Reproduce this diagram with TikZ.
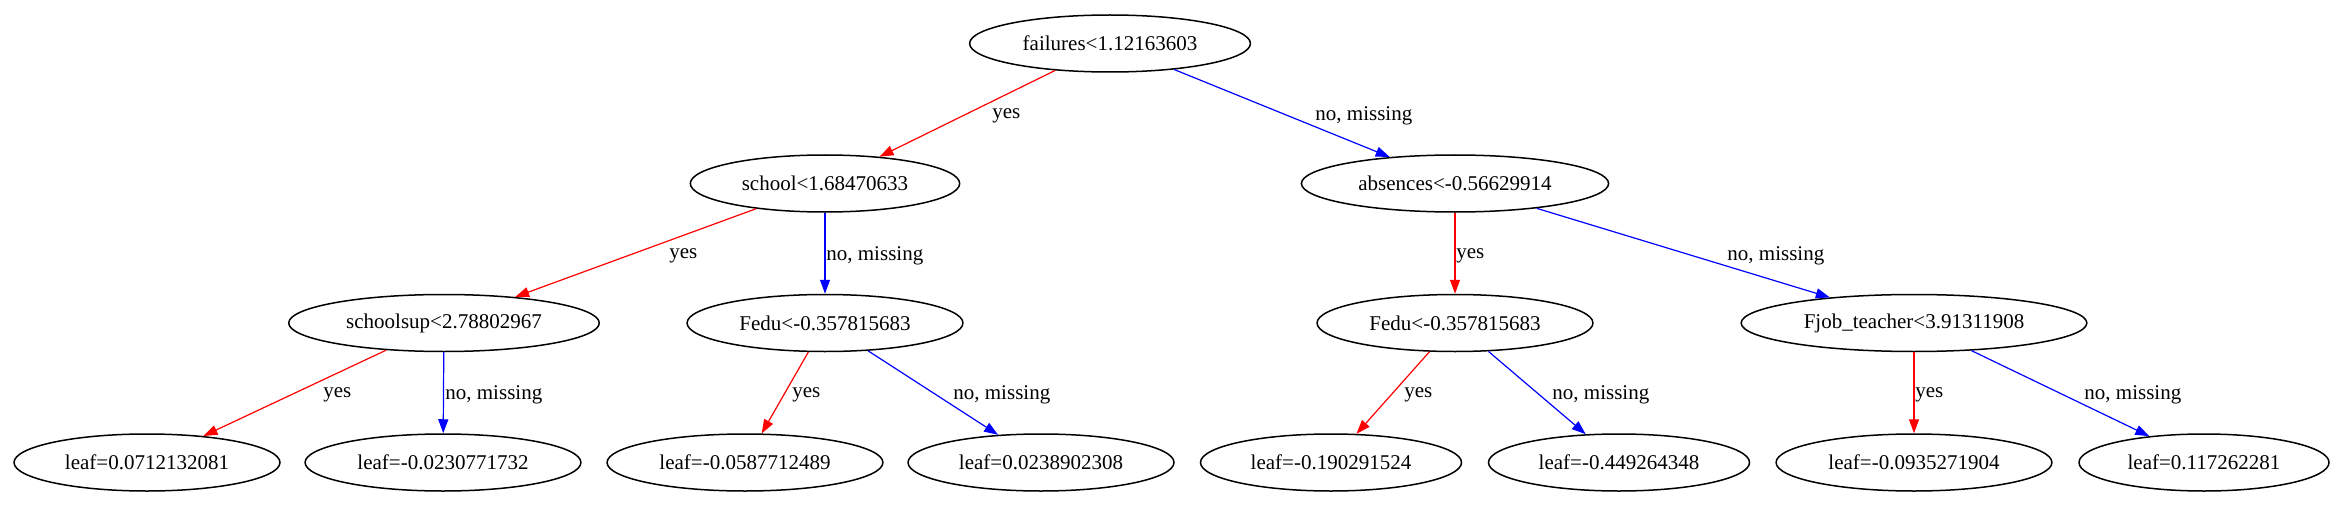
\documentclass[tikz,border=0pt]{standalone}
\usepackage{fontspec}
\setmainfont{Liberation Serif}
\tikzset{split/.style = {draw, ellipse, line width = 0.75pt, inner xsep = 6pt, minimum height = 28.5pt}}
\tikzset{yesedge/.style = {red, line width = 0.6pt, -{Triangle[length = 7pt, width = 5pt]}}}
\tikzset{noedge/.style = {blue, line width = 0.6pt, -{Triangle[length = 7pt, width = 5pt]}}}
\tikzset{lbl/.style = {anchor = west, inner sep = 0pt}}
\usetikzlibrary{shapes.geometric,
                 arrows.meta}

\begin{document}
\begin{tikzpicture}[x=0.5pt, y=-0.5pt, font=\fontsize{10.5}{12}\selectfont]
      \useasboundingbox (0, 0) rectangle (2345, 508);
      \node [split] (root) at (1110, 43.5) {failures<1.12163603};
      \node [split] (school) at (825, 183.5) {school<1.68470633};
      \node [split] (absences) at (1455, 183.5) {absences<-0.56629914};
      \node [split] (schoolsup) at (444, 323) {schoolsup<2.78802967};
      \node [split] (fedul) at (825, 323) {Fedu<-0.357815683};
      \node [split] (fedur) at (1455, 323) {Fedu<-0.357815683};
      \node [split] (fjob) at (1914, 323) {Fjob\_teacher<3.91311908};
      \node [split] (leafa) at (147, 462.5) {leaf=0.0712132081};
      \node [split] (leafb) at (443, 462.5) {leaf=-0.0230771732};
      \node [split] (leafc) at (745, 462.5) {leaf=-0.0587712489};
      \node [split] (leafd) at (1041, 462.5) {leaf=0.0238902308};
      \node [split] (leafe) at (1331, 462.5) {leaf=-0.190291524};
      \node [split] (leaff) at (1619, 462.5) {leaf=-0.449264348};
      \node [split] (leafg) at (1914, 462.5) {leaf=-0.0935271904};
      \node [split] (leafh) at (2204, 462.5) {leaf=0.117262281};
      \draw [yesedge] (root) -- (school);
      \draw [noedge] (root) -- (absences);
      \draw [yesedge] (school) -- (schoolsup);
      \draw [noedge] (school) -- (fedul);
      \draw [yesedge] (absences) -- (fedur);
      \draw [noedge] (absences) -- (fjob);
      \draw [yesedge] (schoolsup) -- (leafa);
      \draw [noedge] (schoolsup) -- (leafb);
      \draw [yesedge] (fedul) -- (leafc);
      \draw [noedge] (fedul) -- (leafd);
      \draw [yesedge] (fedur) -- (leafe);
      \draw [noedge] (fedur) -- (leaff);
      \draw [yesedge] (fjob) -- (leafg);
      \draw [noedge] (fjob) -- (leafh);
      \node [lbl] (ya) at (992, 116) {yes};
      \node [lbl] (na) at (1315, 116) {no, missing};
      \node [lbl] (yb) at (669, 256) {yes};
      \node [lbl] (nb) at (826, 256) {no, missing};
      \node [lbl] (yc) at (1456, 256) {yes};
      \node [lbl] (nc) at (1727, 256) {no, missing};
      \node [lbl] (yd) at (323, 395) {yes};
      \node [lbl] (nd) at (445, 395) {no, missing};
      \node [lbl] (ye) at (792, 395) {yes};
      \node [lbl] (ne) at (953, 395) {no, missing};
      \node [lbl] (yf) at (1404, 395) {yes};
      \node [lbl] (nf) at (1552, 395) {no, missing};
      \node [lbl] (yg) at (1915, 395) {yes};
      \node [lbl] (ng) at (2084, 395) {no, missing};
    \end{tikzpicture}
\end{document}
